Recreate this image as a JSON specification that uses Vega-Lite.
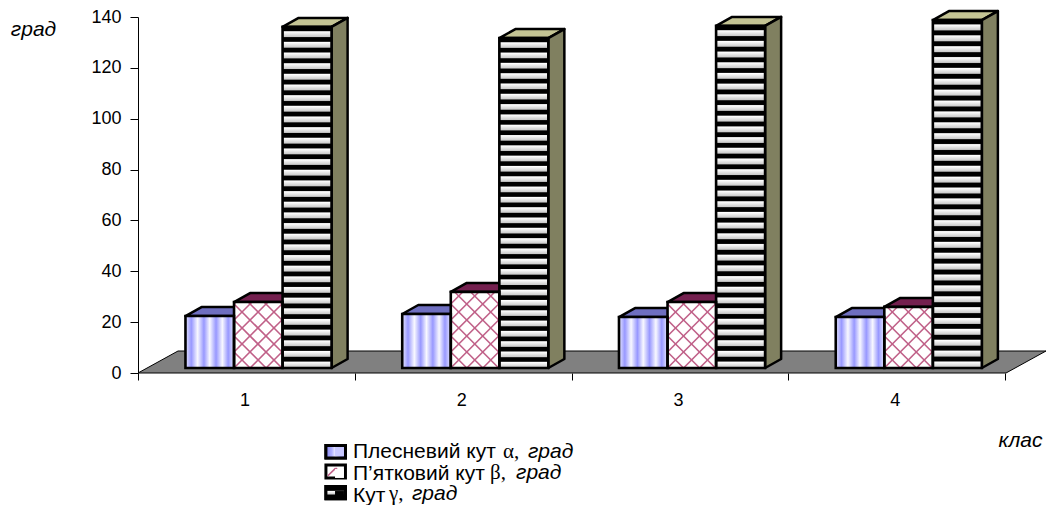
{"$schema":"https://vega.github.io/schema/vega-lite/v6.json","width":908,"height":356,"autosize":"none","padding":{"left":138,"top":17,"right":0,"bottom":132},"background":"white","config":{"view":{"stroke":null},"font":"Liberation Sans"},
"datasets":{
"bars":[
{"class":1,"series":"Плесневий кут α, град","x":0.719,"x2":0.943,"y2":1.97,"y":22.4},
{"class":1,"series":"П’ятковий кут β, град","x":0.943,"x2":1.167,"y2":1.97,"y":27.9},
{"class":1,"series":"Кут γ, град","x":1.167,"x2":1.393,"y2":1.97,"y":136.1},
{"class":2,"series":"Плесневий кут α, град","x":1.719,"x2":1.943,"y2":1.97,"y":23.2},
{"class":2,"series":"П’ятковий кут β, град","x":1.943,"x2":2.167,"y2":1.97,"y":31.9},
{"class":2,"series":"Кут γ, град","x":2.167,"x2":2.393,"y2":1.97,"y":131.7},
{"class":3,"series":"Плесневий кут α, град","x":2.719,"x2":2.943,"y2":1.97,"y":22.0},
{"class":3,"series":"П’ятковий кут β, град","x":2.943,"x2":3.167,"y2":1.97,"y":27.9},
{"class":3,"series":"Кут γ, град","x":3.167,"x2":3.393,"y2":1.97,"y":136.5},
{"class":4,"series":"Плесневий кут α, град","x":3.719,"x2":3.943,"y2":1.97,"y":22.0},
{"class":4,"series":"П’ятковий кут β, град","x":3.943,"x2":4.167,"y2":1.97,"y":26.0},
{"class":4,"series":"Кут γ, град","x":4.167,"x2":4.393,"y2":1.97,"y":138.8}],
"swatch":[
{"series":"Плесневий кут α, град","x":1.367,"x2":1.457,"y":-28.5,"y2":-33.4},
{"series":"П’ятковий кут β, град","x":1.367,"x2":1.457,"y":-36.2,"y2":-41.3},
{"series":"Кут γ, град","x":1.367,"x2":1.457,"y":-44.6,"y2":-49.5}],
"floor":[{"x":0.5,"y":0,"y2":0},{"x":0.6845,"y":8.65,"y2":0},{"x":4.5046,"y":8.65,"y2":0},{"x":4.689,"y":8.65,"y2":8.65}],
"tops":[
{"id":"a1","series":"Плесневий кут α, град","x":0.719,"y":22.4,"y2":22.4},{"id":"a1","series":"Плесневий кут α, град","x":0.793,"y":25.94,"y2":22.4},{"id":"a1","series":"Плесневий кут α, град","x":0.943,"y":25.94,"y2":22.4},{"id":"a1","series":"Плесневий кут α, град","x":1.017,"y":25.94,"y2":25.94},
{"id":"b1","series":"П’ятковий кут β, град","x":0.943,"y":27.9,"y2":27.9},{"id":"b1","series":"П’ятковий кут β, град","x":1.017,"y":31.44,"y2":27.9},{"id":"b1","series":"П’ятковий кут β, град","x":1.167,"y":31.44,"y2":27.9},{"id":"b1","series":"П’ятковий кут β, град","x":1.241,"y":31.44,"y2":31.44},
{"id":"c1","series":"Кут γ, град","x":1.167,"y":136.1,"y2":136.1},{"id":"c1","series":"Кут γ, град","x":1.241,"y":139.64,"y2":136.1},{"id":"c1","series":"Кут γ, град","x":1.393,"y":139.64,"y2":136.1},{"id":"c1","series":"Кут γ, град","x":1.467,"y":139.64,"y2":139.64},
{"id":"a2","series":"Плесневий кут α, град","x":1.719,"y":23.2,"y2":23.2},{"id":"a2","series":"Плесневий кут α, град","x":1.793,"y":26.74,"y2":23.2},{"id":"a2","series":"Плесневий кут α, град","x":1.943,"y":26.74,"y2":23.2},{"id":"a2","series":"Плесневий кут α, град","x":2.017,"y":26.74,"y2":26.74},
{"id":"b2","series":"П’ятковий кут β, град","x":1.943,"y":31.9,"y2":31.9},{"id":"b2","series":"П’ятковий кут β, град","x":2.017,"y":35.44,"y2":31.9},{"id":"b2","series":"П’ятковий кут β, град","x":2.167,"y":35.44,"y2":31.9},{"id":"b2","series":"П’ятковий кут β, град","x":2.241,"y":35.44,"y2":35.44},
{"id":"c2","series":"Кут γ, град","x":2.167,"y":131.7,"y2":131.7},{"id":"c2","series":"Кут γ, град","x":2.241,"y":135.24,"y2":131.7},{"id":"c2","series":"Кут γ, град","x":2.393,"y":135.24,"y2":131.7},{"id":"c2","series":"Кут γ, град","x":2.467,"y":135.24,"y2":135.24},
{"id":"a3","series":"Плесневий кут α, град","x":2.719,"y":22.0,"y2":22.0},{"id":"a3","series":"Плесневий кут α, град","x":2.793,"y":25.54,"y2":22.0},{"id":"a3","series":"Плесневий кут α, град","x":2.943,"y":25.54,"y2":22.0},{"id":"a3","series":"Плесневий кут α, град","x":3.017,"y":25.54,"y2":25.54},
{"id":"b3","series":"П’ятковий кут β, град","x":2.943,"y":27.9,"y2":27.9},{"id":"b3","series":"П’ятковий кут β, град","x":3.017,"y":31.44,"y2":27.9},{"id":"b3","series":"П’ятковий кут β, град","x":3.167,"y":31.44,"y2":27.9},{"id":"b3","series":"П’ятковий кут β, град","x":3.241,"y":31.44,"y2":31.44},
{"id":"c3","series":"Кут γ, град","x":3.167,"y":136.5,"y2":136.5},{"id":"c3","series":"Кут γ, град","x":3.241,"y":140.04,"y2":136.5},{"id":"c3","series":"Кут γ, град","x":3.393,"y":140.04,"y2":136.5},{"id":"c3","series":"Кут γ, град","x":3.467,"y":140.04,"y2":140.04},
{"id":"a4","series":"Плесневий кут α, град","x":3.719,"y":22.0,"y2":22.0},{"id":"a4","series":"Плесневий кут α, град","x":3.793,"y":25.54,"y2":22.0},{"id":"a4","series":"Плесневий кут α, град","x":3.943,"y":25.54,"y2":22.0},{"id":"a4","series":"Плесневий кут α, град","x":4.017,"y":25.54,"y2":25.54},
{"id":"b4","series":"П’ятковий кут β, град","x":3.943,"y":26.0,"y2":26.0},{"id":"b4","series":"П’ятковий кут β, град","x":4.017,"y":29.54,"y2":26.0},{"id":"b4","series":"П’ятковий кут β, град","x":4.167,"y":29.54,"y2":26.0},{"id":"b4","series":"П’ятковий кут β, град","x":4.241,"y":29.54,"y2":29.54},
{"id":"c4","series":"Кут γ, град","x":4.167,"y":138.8,"y2":138.8},{"id":"c4","series":"Кут γ, град","x":4.241,"y":142.34,"y2":138.8},{"id":"c4","series":"Кут γ, град","x":4.393,"y":142.34,"y2":138.8},{"id":"c4","series":"Кут γ, град","x":4.467,"y":142.34,"y2":142.34}],
"sides":[
{"id":"c1","x":1.393,"y":136.1,"y2":1.97},{"id":"c1","x":1.467,"y":139.64,"y2":5.51},
{"id":"c2","x":2.393,"y":131.7,"y2":1.97},{"id":"c2","x":2.467,"y":135.24,"y2":5.51},
{"id":"c3","x":3.393,"y":136.5,"y2":1.97},{"id":"c3","x":3.467,"y":140.04,"y2":5.51},
{"id":"c4","x":4.393,"y":138.8,"y2":1.97},{"id":"c4","x":4.467,"y":142.34,"y2":5.51}],
"lattice":[
{"x":1.091,"y":1.97,"x2":1.164,"y2":8.26},{"x":1.017,"y":1.97,"x2":1.164,"y2":14.55},{"x":0.943,"y":1.97,"x2":1.164,"y2":20.85},{"x":0.943,"y":8.26,"x2":1.164,"y2":27.14},{"x":0.943,"y":14.55,"x2":1.1,"y2":27.92},{"x":0.943,"y":20.85,"x2":1.026,"y2":27.92},{"x":0.943,"y":27.14,"x2":0.952,"y2":27.92},
{"x":0.943,"y":8.26,"x2":1.017,"y2":1.97},{"x":0.943,"y":14.55,"x2":1.091,"y2":1.97},{"x":0.943,"y":20.85,"x2":1.164,"y2":1.97},{"x":0.943,"y":27.14,"x2":1.164,"y2":8.26},{"x":1.008,"y":27.92,"x2":1.164,"y2":14.55},{"x":1.081,"y":27.92,"x2":1.164,"y2":20.85},{"x":1.155,"y":27.92,"x2":1.164,"y2":27.14},
{"x":2.091,"y":1.97,"x2":2.164,"y2":8.26},{"x":2.017,"y":1.97,"x2":2.164,"y2":14.55},{"x":1.943,"y":1.97,"x2":2.164,"y2":20.85},{"x":1.943,"y":8.26,"x2":2.164,"y2":27.14},{"x":1.943,"y":14.55,"x2":2.146,"y2":31.86},{"x":1.943,"y":20.85,"x2":2.072,"y2":31.86},{"x":1.943,"y":27.14,"x2":1.998,"y2":31.86},
{"x":1.943,"y":8.26,"x2":2.017,"y2":1.97},{"x":1.943,"y":14.55,"x2":2.091,"y2":1.97},{"x":1.943,"y":20.85,"x2":2.164,"y2":1.97},{"x":1.943,"y":27.14,"x2":2.164,"y2":8.26},{"x":1.961,"y":31.86,"x2":2.164,"y2":14.55},{"x":2.035,"y":31.86,"x2":2.164,"y2":20.85},{"x":2.109,"y":31.86,"x2":2.164,"y2":27.14},
{"x":3.091,"y":1.97,"x2":3.164,"y2":8.26},{"x":3.017,"y":1.97,"x2":3.164,"y2":14.55},{"x":2.943,"y":1.97,"x2":3.164,"y2":20.85},{"x":2.943,"y":8.26,"x2":3.164,"y2":27.14},{"x":2.943,"y":14.55,"x2":3.1,"y2":27.92},{"x":2.943,"y":20.85,"x2":3.026,"y2":27.92},{"x":2.943,"y":27.14,"x2":2.952,"y2":27.92},
{"x":2.943,"y":8.26,"x2":3.017,"y2":1.97},{"x":2.943,"y":14.55,"x2":3.091,"y2":1.97},{"x":2.943,"y":20.85,"x2":3.164,"y2":1.97},{"x":2.943,"y":27.14,"x2":3.164,"y2":8.26},{"x":3.008,"y":27.92,"x2":3.164,"y2":14.55},{"x":3.081,"y":27.92,"x2":3.164,"y2":20.85},{"x":3.155,"y":27.92,"x2":3.164,"y2":27.14},
{"x":4.091,"y":1.97,"x2":4.164,"y2":8.26},{"x":4.017,"y":1.97,"x2":4.164,"y2":14.55},{"x":3.943,"y":1.97,"x2":4.164,"y2":20.85},{"x":3.943,"y":8.26,"x2":4.151,"y2":25.96},{"x":3.943,"y":14.55,"x2":4.077,"y2":25.96},{"x":3.943,"y":20.85,"x2":4.003,"y2":25.96},
{"x":3.943,"y":8.26,"x2":4.017,"y2":1.97},{"x":3.943,"y":14.55,"x2":4.091,"y2":1.97},{"x":3.943,"y":20.85,"x2":4.164,"y2":1.97},{"x":3.957,"y":25.96,"x2":4.164,"y2":8.26},{"x":4.031,"y":25.96,"x2":4.164,"y2":14.55},{"x":4.104,"y":25.96,"x2":4.164,"y2":20.85},
{"x":1.376,"y":-40.4,"x2":1.412,"y2":-37.4},{"x":1.412,"y":-37.4,"x2":1.448,"y2":-40.4}],
"greek":[{"label":"α,","x":2.184,"y":-31.07},{"label":"β,","x":2.124,"y":-39.3},{"label":"γ,","x":1.658,"y":-47.6}],
"unit":[{"label":"град","x":2.299,"y":-31.07},{"label":"град","x":2.244,"y":-39.3},{"label":"град","x":1.764,"y":-47.6}]
},
"encoding":{"x":{"field":"x","type":"quantitative","scale":{"domain":[0.5,4.689],"nice":false,"zero":false},
"axis":{"title":"клас","titleFont":"Liberation Sans","titleFontSize":21,"titleFontStyle":"italic","titleFontWeight":"normal","titleX":882,"titleY":67,"titleAlign":"center","titleBaseline":"middle","values":[0.5,1,1.5,2,2.5,3,3.5,4,4.5],"labelExpr":"datum.value%1==0 ? format(datum.value,'d') : ''","grid":false,"domain":false,"tickColor":"black","tickSize":7,"tickOpacity":{"condition":{"test":"datum.value%1!=0","value":1},"value":0},"labelFont":"Liberation Sans","labelFontSize":18,"labelColor":"black","labelPadding":11,"labelOffset":-2,"labelOverlap":false,"labelBound":false,"labelFlush":false}},
"y":{"field":"y","type":"quantitative","scale":{"domain":[0,140],"nice":false},
"axis":{"title":"град","titleFont":"Liberation Sans","titleFontSize":21,"titleFontStyle":"italic","titleFontWeight":"normal","titleAngle":0,"titleX":-105,"titleY":12,"titleAlign":"center","titleBaseline":"middle","values":[0,20,40,60,80,100,120,140],"grid":false,"domainColor":"black","tickColor":"black","tickSize":8,"labelFont":"Liberation Sans","labelFontSize":18,"labelColor":"black","labelPadding":9}}},
"layer":[
{"data":{"name":"floor"},"mark":{"type":"area","orient":"vertical","fill":"#808080","stroke":"black","strokeWidth":1},"encoding":{"y2":{"field":"y2"}}},
{"data":{"name":"tops"},"mark":{"type":"area","orient":"vertical","stroke":"black","strokeWidth":2.5,"strokeJoin":"round"},
"encoding":{"y2":{"field":"y2"},"detail":{"field":"id"},
"color":{"field":"series","type":"nominal","legend":null,"scale":{"domain":["Плесневий кут α, град","П’ятковий кут β, град","Кут γ, град"],"range":["#6f6fc0","#74204f","#c4c494"]}}}},
{"data":{"name":"sides"},"mark":{"type":"area","orient":"vertical","fill":"#808060","stroke":"black","strokeWidth":2.5,"strokeJoin":"round"},
"encoding":{"y2":{"field":"y2"},"detail":{"field":"id"}}},
{"data":{"name":"bars"},"mark":{"type":"rect"},
"encoding":{"x2":{"field":"x2"},"y2":{"field":"y2"},
"color":{"field":"series","type":"nominal","scale":{"domain":["Плесневий кут α, град","П’ятковий кут β, град","Кут γ, град"],"range":["#c8c8ff","#ffffff","#000000"]},
"legend":{"title":null,"orient":"none","legendX":191,"legendY":424,"symbolType":"square","symbolSize":80,"labelFont":"Liberation Sans","labelFontSize":21,"labelColor":"black","labelOffset":3,"rowPadding":0,"gridAlign":"all","labelLimit":400,"labelExpr":"replace(datum.label, regexp(' [αβγ], град'), '')"}}}},
{"data":{"name":"bars"},"transform":[{"filter":"datum.series=='Плесневий кут α, град'"}],"mark":{"type":"rect","fill":{"gradient":"linear","x1":0,"y1":0,"x2":1,"y2":0,"stops":[{"offset":0,"color":"#e8e8ff"},{"offset":0.12,"color":"#9898ff"},{"offset":0.25,"color":"#f8f8ff"},{"offset":0.38,"color":"#9898ff"},{"offset":0.5,"color":"#f8f8ff"},{"offset":0.63,"color":"#9898ff"},{"offset":0.76,"color":"#f8f8ff"},{"offset":0.88,"color":"#9898ff"},{"offset":1,"color":"#e8e8ff"}]}},
"encoding":{"x2":{"field":"x2"},"y2":{"field":"y2"}}},
{"data":{"name":"bars"},"transform":[{"filter":"datum.series=='Кут γ, град'"}],"mark":{"type":"rect","fill":{"gradient":"linear","x1":0,"y1":0,"x2":0,"y2":1,"stops":[
{"offset":0,"color":"#000"},{"offset":0.0109,"color":"#000"},{"offset":0.0141,"color":"#fff"},{"offset":0.0281,"color":"#ccc"},
{"offset":0.0313,"color":"#000"},{"offset":0.0422,"color":"#000"},{"offset":0.0454,"color":"#fff"},{"offset":0.0594,"color":"#ccc"},
{"offset":0.0625,"color":"#000"},{"offset":0.0734,"color":"#000"},{"offset":0.0766,"color":"#fff"},{"offset":0.0906,"color":"#ccc"},
{"offset":0.0938,"color":"#000"},{"offset":0.1047,"color":"#000"},{"offset":0.1079,"color":"#fff"},{"offset":0.1219,"color":"#ccc"},
{"offset":0.125,"color":"#000"},{"offset":0.1359,"color":"#000"},{"offset":0.1391,"color":"#fff"},{"offset":0.1531,"color":"#ccc"},
{"offset":0.1563,"color":"#000"},{"offset":0.1672,"color":"#000"},{"offset":0.1704,"color":"#fff"},{"offset":0.1844,"color":"#ccc"},
{"offset":0.1875,"color":"#000"},{"offset":0.1984,"color":"#000"},{"offset":0.2016,"color":"#fff"},{"offset":0.2156,"color":"#ccc"},
{"offset":0.2188,"color":"#000"},{"offset":0.2297,"color":"#000"},{"offset":0.2329,"color":"#fff"},{"offset":0.2469,"color":"#ccc"},
{"offset":0.25,"color":"#000"},{"offset":0.2609,"color":"#000"},{"offset":0.2641,"color":"#fff"},{"offset":0.2781,"color":"#ccc"},
{"offset":0.2813,"color":"#000"},{"offset":0.2922,"color":"#000"},{"offset":0.2954,"color":"#fff"},{"offset":0.3094,"color":"#ccc"},
{"offset":0.3125,"color":"#000"},{"offset":0.3234,"color":"#000"},{"offset":0.3266,"color":"#fff"},{"offset":0.3406,"color":"#ccc"},
{"offset":0.3438,"color":"#000"},{"offset":0.3547,"color":"#000"},{"offset":0.3579,"color":"#fff"},{"offset":0.3719,"color":"#ccc"},
{"offset":0.375,"color":"#000"},{"offset":0.3859,"color":"#000"},{"offset":0.3891,"color":"#fff"},{"offset":0.4031,"color":"#ccc"},
{"offset":0.4063,"color":"#000"},{"offset":0.4172,"color":"#000"},{"offset":0.4204,"color":"#fff"},{"offset":0.4344,"color":"#ccc"},
{"offset":0.4375,"color":"#000"},{"offset":0.4484,"color":"#000"},{"offset":0.4516,"color":"#fff"},{"offset":0.4656,"color":"#ccc"},
{"offset":0.4688,"color":"#000"},{"offset":0.4797,"color":"#000"},{"offset":0.4829,"color":"#fff"},{"offset":0.4969,"color":"#ccc"},
{"offset":0.5,"color":"#000"},{"offset":0.5109,"color":"#000"},{"offset":0.5141,"color":"#fff"},{"offset":0.5281,"color":"#ccc"},
{"offset":0.5313,"color":"#000"},{"offset":0.5422,"color":"#000"},{"offset":0.5454,"color":"#fff"},{"offset":0.5594,"color":"#ccc"},
{"offset":0.5625,"color":"#000"},{"offset":0.5734,"color":"#000"},{"offset":0.5766,"color":"#fff"},{"offset":0.5906,"color":"#ccc"},
{"offset":0.5938,"color":"#000"},{"offset":0.6047,"color":"#000"},{"offset":0.6079,"color":"#fff"},{"offset":0.6219,"color":"#ccc"},
{"offset":0.625,"color":"#000"},{"offset":0.6359,"color":"#000"},{"offset":0.6391,"color":"#fff"},{"offset":0.6531,"color":"#ccc"},
{"offset":0.6563,"color":"#000"},{"offset":0.6672,"color":"#000"},{"offset":0.6704,"color":"#fff"},{"offset":0.6844,"color":"#ccc"},
{"offset":0.6875,"color":"#000"},{"offset":0.6984,"color":"#000"},{"offset":0.7016,"color":"#fff"},{"offset":0.7156,"color":"#ccc"},
{"offset":0.7188,"color":"#000"},{"offset":0.7297,"color":"#000"},{"offset":0.7329,"color":"#fff"},{"offset":0.7469,"color":"#ccc"},
{"offset":0.75,"color":"#000"},{"offset":0.7609,"color":"#000"},{"offset":0.7641,"color":"#fff"},{"offset":0.7781,"color":"#ccc"},
{"offset":0.7813,"color":"#000"},{"offset":0.7922,"color":"#000"},{"offset":0.7954,"color":"#fff"},{"offset":0.8094,"color":"#ccc"},
{"offset":0.8125,"color":"#000"},{"offset":0.8234,"color":"#000"},{"offset":0.8266,"color":"#fff"},{"offset":0.8406,"color":"#ccc"},
{"offset":0.8438,"color":"#000"},{"offset":0.8547,"color":"#000"},{"offset":0.8579,"color":"#fff"},{"offset":0.8719,"color":"#ccc"},
{"offset":0.875,"color":"#000"},{"offset":0.8859,"color":"#000"},{"offset":0.8891,"color":"#fff"},{"offset":0.9031,"color":"#ccc"},
{"offset":0.9063,"color":"#000"},{"offset":0.9172,"color":"#000"},{"offset":0.9204,"color":"#fff"},{"offset":0.9344,"color":"#ccc"},
{"offset":0.9375,"color":"#000"},{"offset":0.9484,"color":"#000"},{"offset":0.9516,"color":"#fff"},{"offset":0.9656,"color":"#ccc"},
{"offset":0.9688,"color":"#000"},{"offset":0.9797,"color":"#000"},{"offset":0.9829,"color":"#fff"},{"offset":0.9969,"color":"#ccc"}]}},
"encoding":{"x2":{"field":"x2"},"y2":{"field":"y2"}}},
{"data":{"name":"swatch"},"mark":{"type":"rect","fill":"#ffffff","stroke":"black","strokeWidth":3},"encoding":{"x2":{"field":"x2"},"y2":{"field":"y2"}}},
{"data":{"name":"swatch"},"transform":[{"filter":"datum.series=='Плесневий кут α, град'"}],"mark":{"type":"rect","stroke":"black","strokeWidth":3,"fill":{"gradient":"linear","x1":0,"y1":0,"x2":1,"y2":0,"stops":[{"offset":0,"color":"#8888f0"},{"offset":0.3,"color":"#b0b0ff"},{"offset":0.5,"color":"#f4f4ff"},{"offset":0.7,"color":"#b0b0ff"},{"offset":1,"color":"#8888f0"}]}},"encoding":{"x2":{"field":"x2"},"y2":{"field":"y2"}}},
{"data":{"name":"swatch"},"transform":[{"filter":"datum.series=='Кут γ, град'"}],"mark":{"type":"rect","stroke":"black","strokeWidth":3,"fill":{"gradient":"linear","x1":0,"y1":0,"x2":0,"y2":1,"stops":[{"offset":0,"color":"#000000"},{"offset":0.32,"color":"#000000"},{"offset":0.38,"color":"#ffffff"},{"offset":0.62,"color":"#cccccc"},{"offset":0.68,"color":"#000000"},{"offset":1,"color":"#000000"}]}},"encoding":{"x2":{"field":"x2"},"y2":{"field":"y2"}}},
{"data":{"name":"lattice"},"mark":{"type":"rule","color":"#c06088","strokeWidth":1.6},
"encoding":{"x2":{"field":"x2"},"y2":{"field":"y2"}}},
{"data":{"name":"bars"},"mark":{"type":"rect","fill":null,"stroke":"black","strokeWidth":2.6},
"encoding":{"x2":{"field":"x2"},"y2":{"field":"y2"}}},
{"data":{"name":"greek"},"mark":{"type":"text","font":"Liberation Serif","fontSize":21,"align":"left","baseline":"middle","color":"black"},
"encoding":{"text":{"field":"label"}}},
{"data":{"name":"unit"},"mark":{"type":"text","font":"Liberation Sans","fontStyle":"italic","fontSize":21,"align":"left","baseline":"middle","color":"black"},
"encoding":{"text":{"field":"label"}}}
],
"resolve":{"scale":{"color":"independent"}}}
